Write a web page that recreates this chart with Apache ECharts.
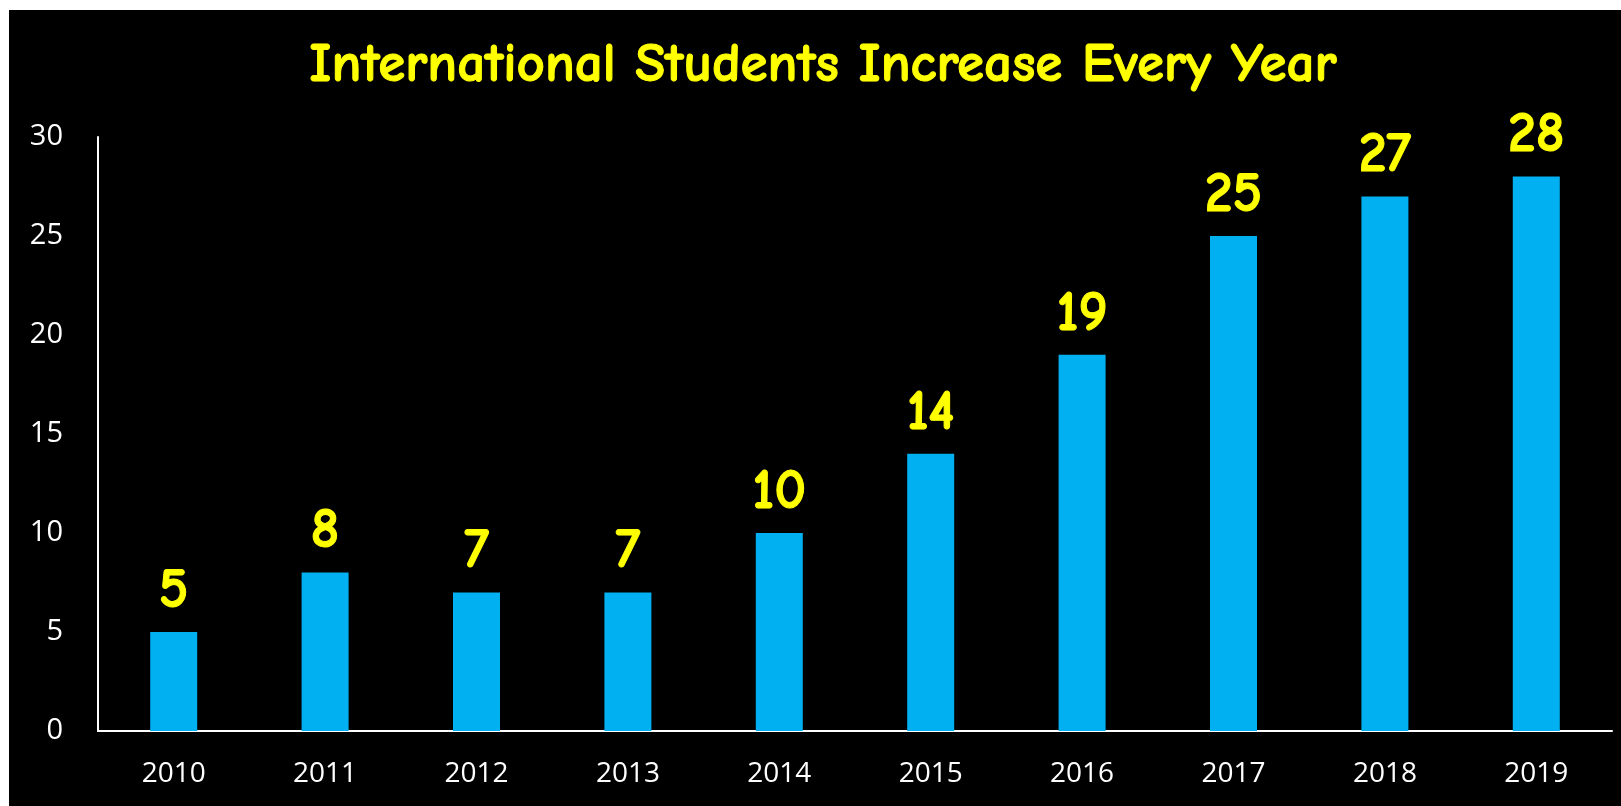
<!DOCTYPE html>
<html>
<head>
<meta charset="utf-8">
<script src="https://cdn.jsdelivr.net/npm/echarts@6/dist/echarts.min.js"></script>
<style>
html,body{margin:0;padding:0;background:#fff;width:1621px;height:806px;overflow:hidden;}
#chart{position:absolute;left:9px;top:10px;width:1612px;height:796px;background:#000;}
</style>
</head>
<body>
<div id="chart"></div>
<script>
const titleText = 'International Students Increase Every Year';
const years = ['2010','2011','2012','2013','2014','2015','2016','2017','2018','2019'];
const students = [5, 8, 7, 7, 10, 14, 19, 25, 27, 28];
const yMin = 0, yMax = 30, yStep = 5;

const chart = echarts.init(document.getElementById('chart'));
const comic = '"Comic Sans MS", "Comic Neue", Lato, "Open Sans", sans-serif';
chart.setOption({
  backgroundColor: '#000',
  animation: false,
  title: {
    text: titleText,
    left: 809,
    top: 23,
    textAlign: 'center',
    textStyle: {
      color: '#FFFF00', fontFamily: comic, fontWeight: 'bold', fontSize: 55,
      textBorderColor: '#FFFF00', textBorderWidth: 1
    }
  },
  grid: { left: 89, right: 9, top: 127, bottom: 75, containLabel: false },
  xAxis: {
    type: 'category',
    data: years,
    axisLine: { lineStyle: { color: '#fff', width: 2 } },
    axisTick: { show: false },
    axisLabel: { color: '#fff', fontFamily: '"Open Sans", sans-serif', fontSize: 28, margin: 29 }
  },
  yAxis: {
    type: 'value',
    min: yMin, max: yMax, interval: yStep,
    axisLine: { show: true, lineStyle: { color: '#fff', width: 2 } },
    axisTick: { show: false },
    splitLine: { show: false },
    axisLabel: { color: '#fff', fontFamily: '"Open Sans", sans-serif', fontSize: 29, margin: 35 }
  },
  series: [{
    type: 'bar',
    data: students,
    barWidth: 47,
    itemStyle: { color: '#00B0F0' },
    label: {
      show: true,
      position: 'top',
      distance: 13,
      color: '#FFFF00',
      fontFamily: comic,
      fontWeight: 'bold',
      fontSize: 56,
      textBorderColor: '#FFFF00',
      textBorderWidth: 1
    }
  }]
});
</script>
</body>
</html>
